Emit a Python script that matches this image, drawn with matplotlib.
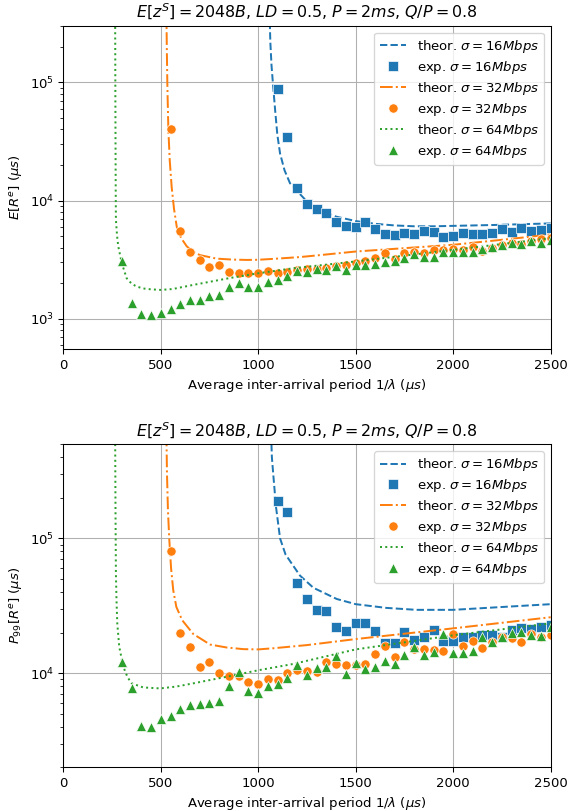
import matplotlib
matplotlib.use('Agg')
from matplotlib import pyplot as plt


# experimental sampling points (inter-arrival period, us)
x_exp16 = [1100, 1150, 1200, 1250, 1300, 1350, 1400, 1450, 1500, 1550, 1600, 1650, 1700,
           1750, 1800, 1850, 1900, 1950, 2000, 2050, 2100, 2150, 2200, 2250, 2300, 2350,
           2400, 2450, 2500]
x_exp32 = [550, 600, 650, 700, 750, 800, 850, 900, 950, 1000, 1050, 1100, 1150, 1200,
           1250, 1300, 1350, 1400, 1450, 1500, 1550, 1600, 1650, 1700, 1750, 1800, 1850,
           1900, 1950, 2000, 2050, 2100, 2150, 2200, 2250, 2300, 2350, 2400, 2450, 2500]
x_exp64 = [300, 350, 400, 450, 500, 550, 600, 650, 700, 750, 800, 850, 900, 950, 1000,
           1050, 1100, 1150, 1200, 1250, 1300, 1350, 1400, 1450, 1500, 1550, 1600, 1650,
           1700, 1750, 1800, 1850, 1900, 1950, 2000, 2050, 2100, 2150, 2200, 2250, 2300,
           2350, 2400, 2450, 2500]

# mean response time, experiments
mean_exp16 = [87900, 34400, 12700, 9400, 8460, 7850, 6550, 6030, 5950, 6640, 5720, 5220,
              5080, 5300, 5200, 5550, 5430, 4950, 4980, 5300, 5250, 5250, 5330, 5700, 5430,
              5830, 5500, 5650, 5830]
mean_exp32 = [40500, 5540, 3660, 3140, 2730, 2840, 2460, 2440, 2455, 2455, 2540, 2450, 2500,
              2590, 2610, 2640, 2700, 2770, 2850, 2930, 3060, 3250, 3620, 3200, 3620, 3700,
              3560, 3780, 3820, 3870, 3840, 4075, 3720, 3950, 4200, 4350, 4300, 4550, 4680,
              4800]
mean_exp64 = [3100, 1350, 1100, 1080, 1110, 1215, 1334, 1440, 1440, 1555, 1590, 1860, 1995,
              1846, 1846, 2030, 2130, 2300, 2550, 2500, 2625, 2590, 2810, 2570, 2830, 2850,
              2900, 3040, 3080, 3250, 3530, 3350, 3310, 3700, 3630, 3630, 3700, 3870, 4075,
              4220, 4350, 4300, 4500, 4400, 4650]

# 99th percentile response time, experiments
p99_exp16 = [189000, 158000, 46600, 35600, 29500, 28900, 22000, 20600, 23600, 23600, 20500,
             16800, 16600, 20100, 17700, 18600, 20800, 17400, 17400, 18400, 18600, 19100,
             19100, 18600, 20800, 21500, 21100, 22100, 22700]
p99_exp32 = [80900, 19700, 15500, 11200, 12100, 10000, 9550, 9450, 8620, 8250, 8990, 8830,
             9950, 10520, 10300, 10200, 12120, 11600, 11460, 11400, 11670, 13900, 15860,
             13100, 17000, 15000, 15000, 14800, 14650, 19500, 15960, 17300, 15240, 17000,
             18500, 18300, 17000, 19400, 18600, 19300]
p99_exp64 = [12100, 7690, 4060, 3990, 4580, 4800, 5380, 5780, 5880, 6030, 6260, 8050, 10230,
             7370, 7060, 8030, 8300, 9260, 11400, 9680, 10900, 11200, 13400, 9800, 11870,
             10740, 11020, 12340, 11670, 13610, 15520, 13610, 14350, 19600, 14150, 14000,
             14650, 18400, 17060, 18600, 19700, 20300, 19100, 18840, 22100]

# theoretical curves, points
mean_th16_x = [1058, 1062, 1068, 1076, 1086, 1098, 1112, 1135, 1163, 1200, 1250, 1300, 1400,
               1500, 1600, 1700, 1800, 1900, 2000, 2200, 2500]
mean_th16_y = [4.0e5, 2.2e5, 1.4e5, 9.5e4, 6.0e4, 3.6e4, 2.5e4, 1.8e4, 1.4e4, 1.2e4, 9.8e3,
               8.5e3, 7.3e3, 6.7e3, 6.35e3, 6.15e3, 6.05e3, 6.05e3, 6.1e3, 6.2e3, 6.4e3]
mean_th32_x = [529, 531, 534, 539, 546, 556, 568, 582, 605, 633, 665, 701, 787, 870, 941,
               1000, 1095, 1214, 1317, 1500, 1750, 2000, 2250, 2500]
mean_th32_y = [4.0e5, 2.0e5, 9.2e4, 4.0e4, 2.2e4, 1.3e4, 8.5e3, 6.0e3, 4.8e3, 4.1e3, 3.7e3,
               3.45e3, 3.22e3, 3.16e3, 3.14e3, 3.15e3, 3.22e3, 3.32e3, 3.45e3, 3.7e3, 3.95e3,
               4.22e3, 4.65e3, 5.15e3]
mean_th64_x = [266, 267, 268, 269, 270, 276, 282, 300, 325, 350, 376, 410, 450, 500, 560, 667,
               850, 1000, 1180, 1500, 2000, 2500]
mean_th64_y = [4.0e5, 1.0e5, 3.0e4, 1.2e4, 6.9e3, 5.0e3, 4.1e3, 2.95e3, 2.2e3, 1.98e3, 1.87e3,
               1.8e3, 1.77e3, 1.75e3, 1.78e3, 1.93e3, 2.2e3, 2.42e3, 2.67e3, 3.05e3, 3.82e3,
               4.8e3]

p99_th16_x = [1066, 1070, 1077, 1091, 1112, 1140, 1172, 1214, 1283, 1403, 1500, 1657, 1811,
              2000, 2222, 2500]
p99_th16_y = [6.0e5, 4.0e5, 3.0e5, 1.72e5, 1.0e5, 7.6e4, 6.5e4, 5.3e4, 4.3e4, 3.55e4, 3.25e4,
              3.05e4, 2.95e4, 2.95e4, 3.08e4, 3.25e4]
p99_th32_x = [529, 532, 537, 544, 553, 564, 580, 610, 667, 753, 838, 923, 1000, 1078, 1250,
              1500, 2000, 2500]
p99_th32_y = [6.0e5, 3.0e5, 1.6e5, 9.7e4, 6.0e4, 4.13e4, 3.1e4, 2.47e4, 1.95e4, 1.63e4,
              1.55e4, 1.507e4, 1.5e4, 1.53e4, 1.615e4, 1.79e4, 2.15e4, 2.6e4]
p99_th64_x = [266, 268, 270, 273, 277, 287, 308, 330, 351, 410, 497, 580, 667, 838, 1000,
              1180, 1500, 2000, 2500]
p99_th64_y = [6.0e5, 1.5e5, 5.5e4, 3.5e4, 2.34e4, 1.57e4, 1.115e4, 9.3e3, 8.4e3, 7.83e3,
              7.7e3, 7.95e3, 8.4e3, 9.4e3, 1.05e4, 1.17e4, 1.5e4, 1.91e4, 2.34e4]

title = '$E[z^S]=2048B$, $LD=0.5$, $P=2ms$, $Q/P=0.8$'


def draw(ax, th, exp, ylabel, ylim):
    (t16x, t16y), (t32x, t32y), (t64x, t64y) = th
    e16, e32, e64 = exp
    mk = dict(linestyle='none', markersize=7, markeredgecolor='white', markeredgewidth=0.5)
    ax.plot(t16x, t16y, '--', color='C0', label=r'theor. $\sigma=16Mbps$')
    ax.plot(x_exp16, e16, marker='s', color='C0', label=r'exp. $\sigma=16Mbps$', **mk)
    ax.plot(t32x, t32y, '-.', color='C1', label=r'theor. $\sigma=32Mbps$')
    ax.plot(x_exp32, e32, marker='o', color='C1', label=r'exp. $\sigma=32Mbps$', **mk)
    ax.plot(t64x, t64y, ':', color='C2', label=r'theor. $\sigma=64Mbps$')
    ax.plot(x_exp64, e64, marker='^', color='C2', label=r'exp. $\sigma=64Mbps$', **mk)
    ax.set_yscale('log')
    ax.set_xlim(0, 2500)
    ax.set_ylim(*ylim)
    ax.grid(True)
    ax.set_title(title)
    ax.set_xlabel(r'Average inter-arrival period $1/\lambda$ ($\mu s$)')
    ax.set_ylabel(ylabel)
    ax.legend(loc='upper right', labelspacing=0.3)


# drawn at 95 dpi so default font/line sizes match the reference scale
fig = plt.figure(figsize=(569 / 95, 811 / 95), dpi=95)
ax1 = fig.add_axes([0.1112, 0.5693, 0.8566, 0.3986])
ax2 = fig.add_axes([0.1112, 0.0539, 0.8566, 0.3983])

draw(ax1,
     [(mean_th16_x, mean_th16_y), (mean_th32_x, mean_th32_y), (mean_th64_x, mean_th64_y)],
     [mean_exp16, mean_exp32, mean_exp64],
     r'$E[R^e]$ ($\mu s$)', (550, 3e5))
draw(ax2,
     [(p99_th16_x, p99_th16_y), (p99_th32_x, p99_th32_y), (p99_th64_x, p99_th64_y)],
     [p99_exp16, p99_exp32, p99_exp64],
     r'$P_{99}[R^e]$ ($\mu s$)', (2e3, 5e5))

fig.savefig('out.png', dpi=95)
